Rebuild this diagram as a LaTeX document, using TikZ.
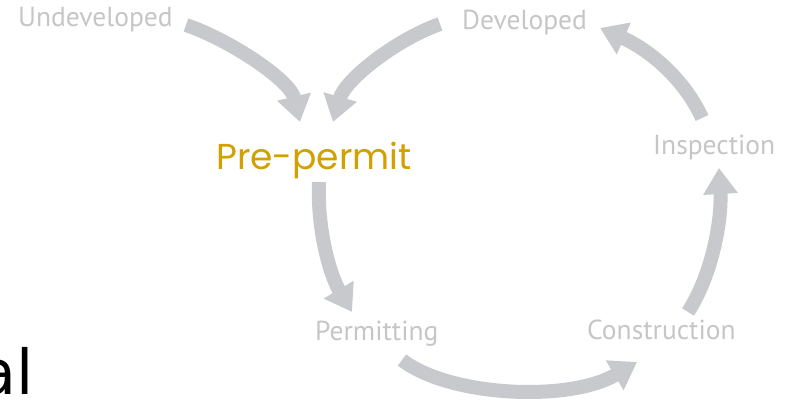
\documentclass[tikz,border=0pt]{standalone}
\usepackage{fontspec}
\setmainfont{PT Sans}
\newfontfamily\prefont{Poppins}
\newfontfamily\alfont{DejaVu Sans}
\usetikzlibrary{arrows.meta}
\definecolor{arrowgray}{RGB}{200,201,204}
\definecolor{labelgray}{RGB}{198,198,198}
\definecolor{gold}{RGB}{210,160,0}
\tikzset{
  stage/.style={anchor=base west, inner sep=0pt, text=labelgray, font=\fontsize{27.5}{27.5}\selectfont},
  flow/.style={draw=arrowgray, line width=14pt, -{Triangle[length=26pt,width=33pt]}}
}
\begin{document}
\begin{tikzpicture}[x=1pt,y=-1pt]
\useasboundingbox (0,0) rectangle (788,403);
\clip (0,0) rectangle (788,403);
\fill[white] (0,0) rectangle (788,403);
\node[stage] (und) at (18,27) {Undeveloped};
\node[stage] (dev) at (462,30) {Developed};
\node[stage] (ins) at (653,155) {Inspection};
\node[stage] (per) at (315,341) {Permitting};
\node[stage] (con) at (587,340) {Construction};
\node[anchor=base west, inner sep=0pt, text=gold, font=\prefont\fontsize{36}{36}\selectfont] (pre) at (216,170) {Pre-permit};
\node[anchor=base east, inner sep=0pt, text=black, font=\alfont\fontsize{62}{62}\selectfont] (al) at (34,395) {al};
\coordinate (a1s) at (186,25);  \coordinate (a1e) at (300,122);
\coordinate (a2s) at (440,24);  \coordinate (a2e) at (333,122);
\coordinate (a3s) at (319,182); \coordinate (a3e) at (352,312);
\coordinate (a4s) at (402,360); \coordinate (a4e) at (637,362);
\coordinate (a5s) at (688,312); \coordinate (a5e) at (719,168);
\coordinate (a6s) at (702,118); \coordinate (a6e) at (600,28);
\draw[flow] (a1s) .. controls (230,40) and (290,80) .. (a1e);
\draw[flow] (a2s) .. controls (395,40) and (345,80) .. (a2e);
\draw[flow] (a3s) .. controls (317,230) and (330,275) .. (a3e);
\draw[flow] (a4s) .. controls (450,397) and (570,402) .. (a4e);
\draw[flow] (a5s) .. controls (712,275) and (722,220) .. (a5e);
\draw[flow] (a6s) .. controls (685,80) and (650,50) .. (a6e);
\end{tikzpicture}
\end{document}
